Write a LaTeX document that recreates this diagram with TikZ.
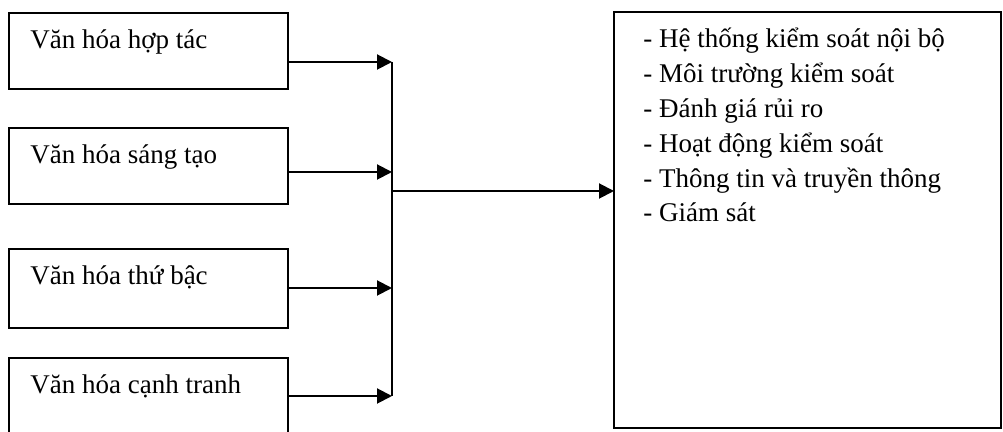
\documentclass[tikz,border=0pt]{standalone}
\usepackage{fontspec}
\setmainfont{Liberation Serif}
\usetikzlibrary{arrows.meta}
\tikzset{
  hop/.style={draw,line width=1pt,rectangle,minimum width=139.5pt,inner sep=0pt,outer sep=0pt,anchor=north west},
  chu/.style={anchor=base west,inner sep=0pt},
  muiten/.style={line width=1pt,-{Triangle[length=7.5pt,width=7.5pt]}}
}
\begin{document}
\begin{tikzpicture}[x=0.5pt,y=-0.5pt]\fontsize{13.5}{17.5}\selectfont
            \useasboundingbox(0,0)rectangle(1003,432);

            \foreach \n/\yb/\h/\y/\t in{hoptac/13/76/62/Văn hóa hợp tác,sangtao/128/76/172/Văn hóa sáng tạo,thubac/249/79/288/Văn hóa thứ bậc,canhtranh/358/78/396/Văn hóa cạnh tranh}{
            \node[hop,minimum height=\h*0.5pt](\n)at(9,\yb){};
            \node[chu](\n-chu)at(30,\yb+36){\t};
            \coordinate(\n-vao)at(392,\y);
            \draw[muiten](\n.east |- \n-vao)--(\n-vao);
            }
            \draw[line width=1pt](hoptac-vao)--(canhtranh-vao);

            \node[hop,minimum width=193.5pt,minimum height=208pt](kiemsoat)at(614,12){};
            \foreach \i/\t in{0/Hệ thống kiểm soát nội bộ,1/Môi trường kiểm soát,2/Đánh giá rủi ro,3/Hoạt động kiểm soát,4/Thông tin và truyền thông,5/Giám sát}{
            \node[chu](muc\i)at(643,48+34.8*\i){- \t};
            }

            \coordinate(noi)at(392,191);
            \draw[muiten](noi)--(noi -| kiemsoat.west);
        \end{tikzpicture}
\end{document}
